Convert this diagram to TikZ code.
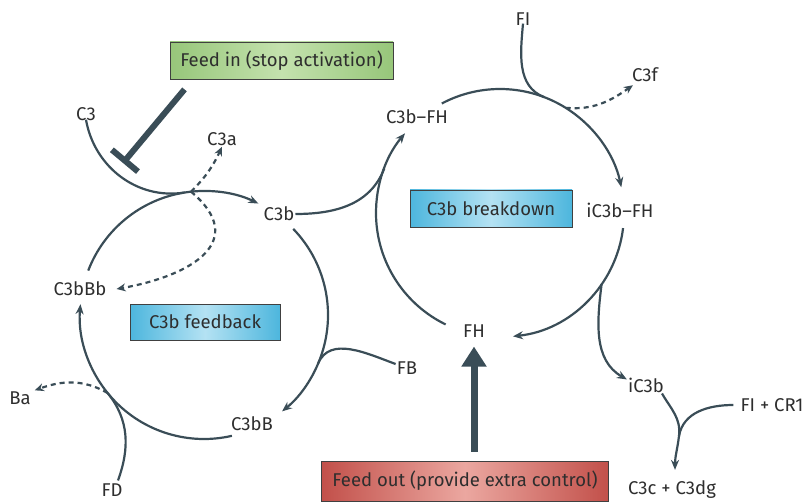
\documentclass[tikz,border=0pt]{standalone}
\usepackage{fontspec}
\setmainfont{Fira Sans}
\usetikzlibrary{arrows.meta,calc}
\definecolor{lineSlate}{HTML}{3A4D57}
\definecolor{txtGray}{HTML}{2E2E2E}
\definecolor{boxBlue}{HTML}{4DB6DD}
\definecolor{boxBlueLt}{HTML}{B4E2F3}
\definecolor{boxGreen}{HTML}{97C67A}
\definecolor{boxGreenLt}{HTML}{C4E2AE}
\definecolor{boxRed}{HTML}{C2504A}
\definecolor{boxRedLt}{HTML}{EBA7A0}

\begin{document}
\begin{tikzpicture}[
  x=1pt,y=1pt,
  font=\fontsize{18.5}{21}\selectfont,
  lbl/.style={text=txtGray,inner sep=1pt},
  box/.style={draw=black!75,line width=0.8pt,text=txtGray,minimum height=37pt,inner xsep=4pt},
  link/.style={draw=lineSlate,line width=2.2pt},
  flow/.style={link,-{Stealth[length=10pt,width=8pt]}},
  side/.style={link,dash pattern=on 5pt off 4pt,-{Stealth[length=9pt,width=8pt]}}
]
  \useasboundingbox (0,0) rectangle (810,501);

  % boxes
  \node[box,left color=boxGreen,right color=boxGreen,middle color=boxGreenLt,minimum width=223pt] (feedin) at (281.5,440.5) {Feed in (stop activation)};
  \node[box,left color=boxBlue,right color=boxBlue,middle color=boxBlueLt,minimum width=162pt] (breakdown) at (491,292.5) {C3b breakdown};
  \node[box,left color=boxBlue,right color=boxBlue,middle color=boxBlueLt,minimum width=150pt,minimum height=36pt] (feedback) at (205,179) {C3b feedback};
  \node[box,left color=boxRed,right color=boxRed,middle color=boxRedLt,minimum width=287pt,minimum height=40pt] (feedout) at (465,20) {Feed out (provide extra control)};

  % species
  \node[lbl] (C3) at (86,387) {C3};
  \node[lbl] (C3a) at (222,362) {C3a};
  \node[lbl] (C3b) at (279,287) {C3b};
  \node[lbl] (C3bFH) at (417,384) {C3b–FH};
  \node[lbl] (FI) at (523,482) {FI};
  \node[lbl] (C3f) at (645,426) {C3f};
  \node[lbl] (iC3bFH) at (620,291) {iC3b–FH};
  \node[lbl] (C3bBb) at (80,212) {C3bBb};
  \node[lbl] (FH) at (474,170) {FH};
  \node[lbl] (FB) at (407,133) {FB};
  \node[lbl] (Ba) at (20,103) {Ba};
  \node[lbl] (C3bB) at (252,77) {C3bB};
  \node[lbl] (FD) at (112,11) {FD};
  \node[lbl] (iC3b) at (646,116) {iC3b};
  \node[lbl] (FICR) at (772,96) {FI + CR1};
  \node[lbl] (C3cdg) at (672,11) {C3c + C3dg};

  % circle centres and merge points
  \coordinate (lc) at (204,186);
  \coordinate (rc) at (500,288);
  \coordinate (lm1) at ([shift={(99:124)}]lc);
  \coordinate (lm2) at ([shift={(-23:124)}]lc);
  \coordinate (lm3) at ([shift={(-141:124)}]lc);
  \coordinate (lm4) at ([shift={(96:124)}]lc);
  \coordinate (rm1) at ([shift={(159:124)}]rc);
  \coordinate (rm2) at ([shift={(69:124)}]rc);
  \coordinate (rm3) at ([shift={(58:124)}]rc);
  \coordinate (rm4) at ([shift={(-35:124)}]rc);
  \coordinate (dm) at (679,65);

  % C3b feedback loop
  \draw[flow] ([shift={(159:124)}]lc) arc[start angle=159,end angle=64,radius=124];
  \draw[flow] ([shift={(44:124)}]lc) arc[start angle=44,end angle=-51,radius=124];
  \draw[flow] ([shift={(-77:124)}]lc) arc[start angle=-77,end angle=-185,radius=124];
  \draw[link] ([yshift=2pt]C3.south) to[out=-80,in=189] (lm1);
  \draw[link] ([yshift=4pt]FB.west) to[out=160,in=67] (lm2);
  \draw[link] ([xshift=6pt,yshift=2pt]FD.north) to[out=70,in=-51] (lm3);
  \draw[side] (lm3) to[out=150,in=20] ([xshift=3pt]Ba.north east);
  \draw[side] (lm4) to[out=45,in=-115] (C3a.south);
  \draw[side] (lm4) to[out=-40,in=10,looseness=1.6] ([xshift=9pt]C3bBb.east);

  % C3b breakdown loop
  \draw[flow] ([shift={(244:124)}]rc) arc[start angle=244,end angle=140,radius=124];
  \draw[flow] ([shift={(118:124)}]rc) arc[start angle=118,end angle=12,radius=124];
  \draw[flow] ([shift={(-7:124)}]rc) arc[start angle=-7,end angle=-84,radius=124];
  \draw[link] (C3b.east) to[out=0,in=249] (rm1);
  \draw[link] ([yshift=3pt]FI.south) to[out=-95,in=159] (rm2);
  \draw[side] (rm3) to[out=-5,in=215] ([xshift=2pt,yshift=-2pt]C3f.south west);
  \draw[flow] (rm4) to[out=-97,in=150] ([yshift=-3pt]iC3b.north west);
  \draw[link] ([xshift=16pt]iC3b.south) to[out=-60,in=83] (dm);
  \draw[link] ([xshift=-6pt]FICR.west) to[out=180,in=80] (dm);
  \draw[flow] (dm) to[out=-97,in=90] ([xshift=3pt,yshift=10pt]C3cdg.north);

  % feed in / feed out
  \draw[lineSlate,line width=6pt,-{Bar[width=34pt]}] ([shift={(-97,-10)}]feedin.south) -- (123,338);
  \draw[lineSlate,line width=7pt,-{Triangle[width=24pt,length=20pt]}] ([yshift=9pt]feedout.north -| FH) -- ([yshift=-8pt]FH.south);
\end{tikzpicture}
\end{document}
